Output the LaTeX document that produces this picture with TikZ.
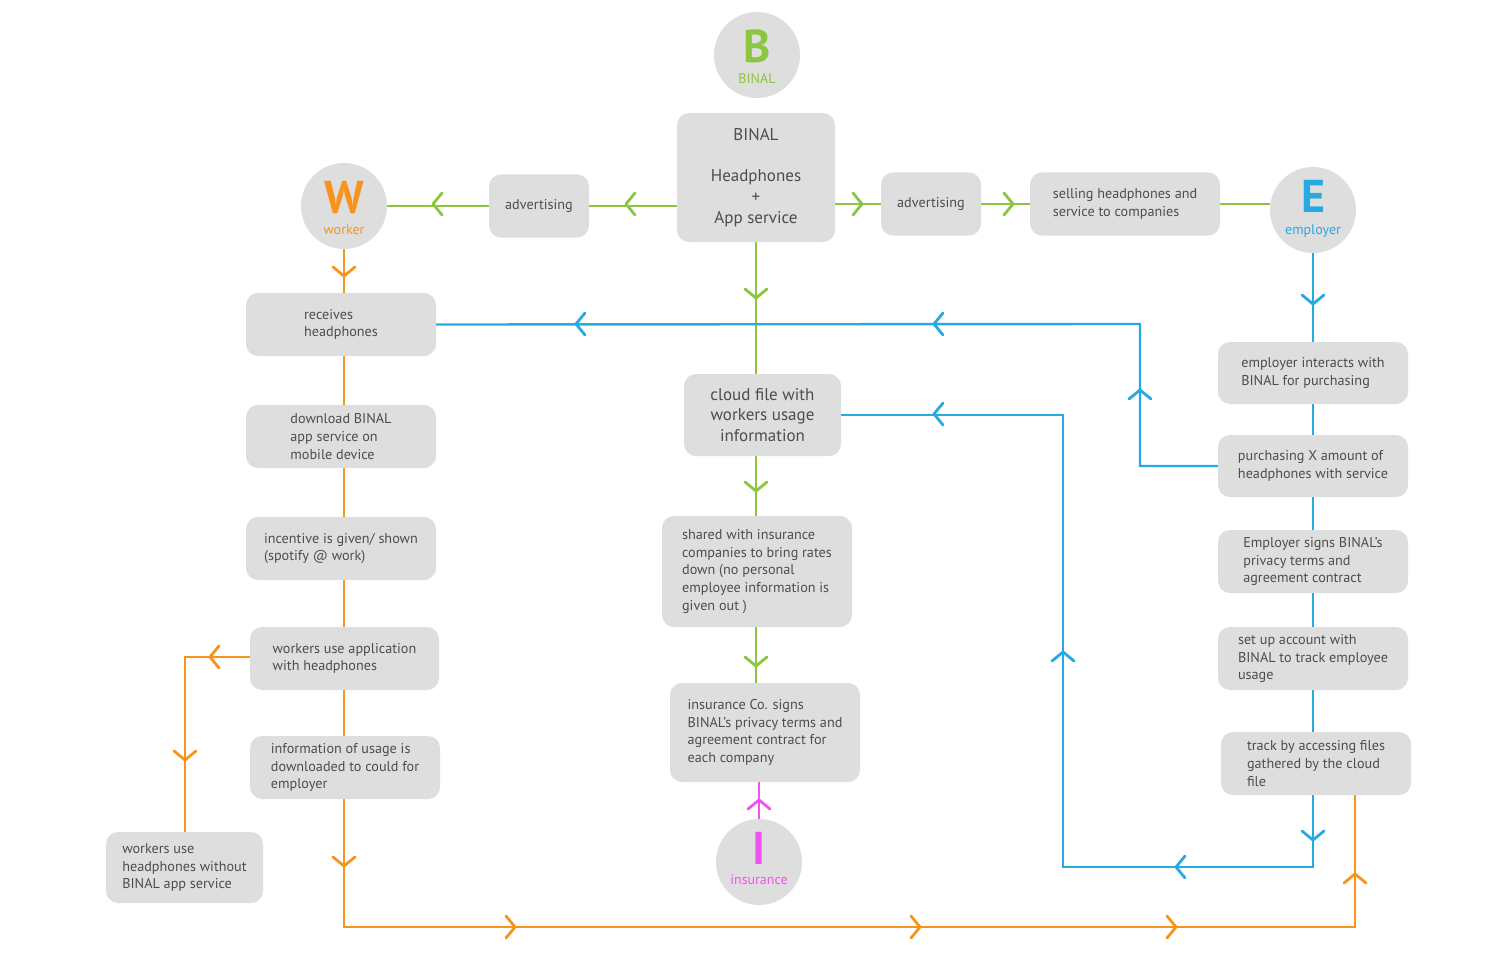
\documentclass[tikz,border=0pt]{standalone}
\usepackage{fontspec}
\setmainfont{PT Sans}
\usetikzlibrary{backgrounds}
\definecolor{cgreen}{HTML}{8CC63F}
\definecolor{corange}{HTML}{F7941E}
\definecolor{cblue}{HTML}{27AAE1}
\definecolor{cmag}{HTML}{EE55EE}
\definecolor{boxgray}{HTML}{DEDEDE}
\definecolor{txt}{HTML}{4D4D4D}
\tikzset{
  box/.style={fill=boxgray, rounded corners=12pt, text=txt, align=left,
    font=\fontsize{14.2}{17.6}\selectfont, inner sep=0pt},
  bigbox/.style={box, align=center, font=\fontsize{17}{20.6}\selectfont},
  circ/.style={circle, fill=boxgray, minimum size=86pt, inner sep=0pt},
  letter/.style={anchor=base, inner sep=0pt, text depth=0pt, font=\bfseries\fontsize{46}{46}\selectfont},
  clabel/.style={anchor=base, inner sep=0pt, text height=7pt, font=\fontsize{14}{14}\selectfont},
  conn/.style={line width=2.4pt},
  chev/.pic={\draw[line width=2.8pt, line cap=round, line join=round] (-9,-11) -- (0,0) -- (-9,11);},
}
\begin{document}
\begin{tikzpicture}[x=1pt,y=-1pt]
\useasboundingbox (0,0) rectangle (1500,971);
% circles
\node[circ] (bc) at (757,55) {};
\node[letter, text=cgreen] at ([yshift=-8pt]bc.center) {B};
\node[clabel, text=cgreen] at ([yshift=-29pt]bc.center) {BINAL};
\node[circ] (wc) at (344,206) {};
\node[letter, text=corange] at ([yshift=-7pt]wc.center) {W};
\node[clabel, text=corange] at ([yshift=-28pt]wc.center) {worker};
\node[circ] (ec) at (1313,210) {};
\node[letter, text=cblue] at ([yshift=-2pt]ec.center) {E};
\node[clabel, text=cblue] at ([yshift=-24pt]ec.center) {employer};
\node[circ] (ic) at (759,862) {};
\node[letter, text=cmag] at ([yshift=-2pt]ic.center) {I};
\node[clabel, text=cmag] at ([yshift=-22pt]ic.center) {insurance};
% boxes
\node[bigbox, minimum width=158pt, minimum height=129pt] (binal) at (756,177.5) {BINAL\\[20.6pt]Headphones\\+\\App service};
\node[box, minimum width=100pt, minimum height=63pt] (adl) at (539,206) {advertising};
\node[box, minimum width=100pt, minimum height=63pt] (adr) at (931,204) {advertising};
\node[box, minimum width=190pt, minimum height=63pt] (sell) at (1125,204) {selling headphones and\\service to companies};
\node[box, minimum width=190pt, minimum height=63pt] (rec) at (341,324.5) {receives\\headphones};
\node[box, minimum width=190pt, minimum height=63pt] (dl) at (341,436.5) {download BINAL\\app service on\\mobile device};
\node[box, minimum width=190pt, minimum height=63pt] (inc) at (341,548.5) {incentive is given/ shown\\(spotify @ work)};
\node[box, minimum width=189pt, minimum height=63pt] (wua) at (344.5,658.5) {workers use application\\with headphones};
\node[box, minimum width=190pt, minimum height=63pt] (info) at (345,767.5) {information of usage is\\downloaded to could for\\employer};
\node[box, minimum width=157pt, minimum height=71pt] (wuh) at (184.5,867.5) {workers use\\headphones without\\BINAL app service};
\node[bigbox, minimum width=157pt, minimum height=82pt] (cloud) at (762.5,415) {cloud file with\\workers usage\\information};
\node[box, minimum width=190pt, minimum height=111pt] (shared) at (757,571.5) {shared with insurance\\companies to bring rates\\down (no personal\\employee information is\\given out )};
\node[box, minimum width=190pt, minimum height=99pt] (insco) at (765,732.5) {insurance Co. signs\\BINAL’s privacy terms and\\agreement contract for\\each company};
\node[box, minimum width=190pt, minimum height=62pt] (eint) at (1313,373) {employer interacts with\\BINAL for purchasing};
\node[box, minimum width=190pt, minimum height=62pt] (purch) at (1313,466) {purchasing X amount of\\headphones with service};
\node[box, minimum width=190pt, minimum height=63pt] (esign) at (1313,561.5) {Employer signs BINAL’s\\privacy terms and\\agreement contract};
\node[box, minimum width=190pt, minimum height=63pt] (setup) at (1313,658.5) {set up account with\\BINAL to track employee\\usage};
\node[box, minimum width=190pt, minimum height=63pt] (track) at (1316,763.5) {track by accessing files\\gathered by the cloud\\file};
% corner coordinates
\coordinate (ol) at (344,927);
\coordinate (or) at (1355,927);
\coordinate (bk) at (1140,324);
\coordinate (bb) at (1063,867);
\coordinate (ob) at (185,657);
\begin{scope}[on background layer]
\fill[white] (0,0) rectangle (1500,971);
% green
\draw[conn, cgreen] (binal.west |- adl) -- (adl.east);
\draw[conn, cgreen] (adl.west) -- (wc.east);
\draw[conn, cgreen] (binal.east |- adr) -- (adr.west);
\draw[conn, cgreen] (adr.east) -- (sell.west);
\draw[conn, cgreen] (sell.east) -- (sell.east -| ec.west);
\draw[conn, cgreen] (binal.south) -- (binal.south |- insco.north);
% magenta
\draw[conn, cmag] (ic.north) -- (ic.north |- insco.south);
% orange
\draw[conn, corange] (wc.south) -- (ol) -- (or) -- (or |- track.south);
\draw[conn, corange] (wua.west |- ob) -- (ob) -- (ob |- wuh.north);
% blue
\draw[conn, cblue] (purch.west) -| (bk) -- (rec.east);
\draw[conn, cblue] (ec.south) -- (ec |- bb) -- (bb) -- (bb |- cloud.east) -- (cloud.east);
\end{scope}
% chevrons
\begin{scope}[cgreen]
\pic[rotate=180] at (626,204) {chev};
\pic[rotate=180] at (433,204) {chev};
\pic at (862,204) {chev};
\pic at (1013,204) {chev};
\pic[rotate=-90] at (756,298) {chev};
\pic[rotate=-90] at (756,491) {chev};
\pic[rotate=-90] at (756,666) {chev};
\end{scope}
\begin{scope}[cmag]
\pic[rotate=90] at (759,800) {chev};
\end{scope}
\begin{scope}[corange]
\pic[rotate=-90] at (344,276) {chev};
\pic[rotate=-90] at (344,866) {chev};
\pic at (515,927) {chev};
\pic at (920,927) {chev};
\pic at (1176,927) {chev};
\pic[rotate=90] at (1355,874) {chev};
\pic[rotate=180] at (210,657) {chev};
\pic[rotate=-90] at (185,760) {chev};
\end{scope}
\begin{scope}[cblue]
\pic[rotate=-90] at (1313,304) {chev};
\pic[rotate=-90] at (1313,840) {chev};
\pic[rotate=180] at (576,324) {chev};
\pic[rotate=180] at (934,324) {chev};
\pic[rotate=180] at (934,414) {chev};
\pic[rotate=180] at (1176,867) {chev};
\pic[rotate=90] at (1140,390) {chev};
\pic[rotate=90] at (1063,652) {chev};
\end{scope}
\end{tikzpicture}
\end{document}
